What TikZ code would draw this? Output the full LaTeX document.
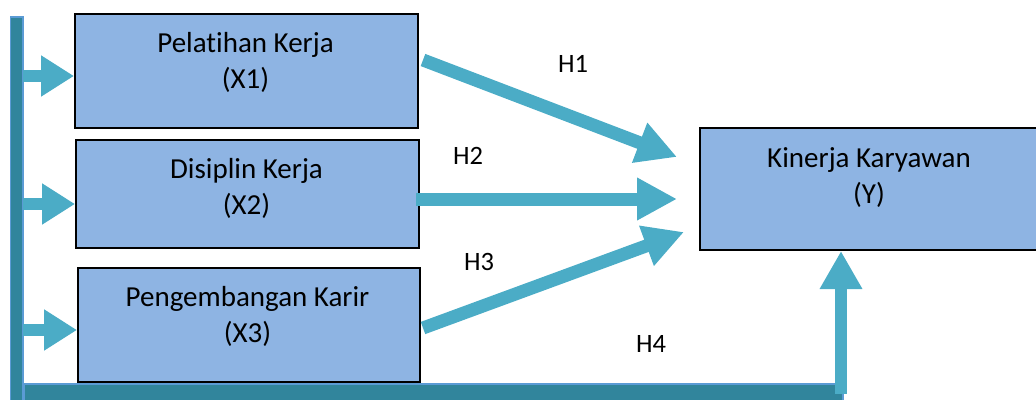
\documentclass[tikz,border=0pt]{standalone}
\usepackage{fontspec}
\setmainfont{Carlito}[Ligatures=NoCommon]
\usetikzlibrary{arrows.meta}
\definecolor{boxfill}{HTML}{8EB4E3}
\definecolor{flowc}{HTML}{4BACC6}
\definecolor{barfill}{HTML}{31859C}
\definecolor{baredge}{HTML}{5B9BD5}
\newcommand{\twolines}[2]{\begin{tabular}[t]{@{}c@{}}#1\\#2\end{tabular}}
\tikzset{
  varbox/.style={draw=black, line width=2pt, fill=boxfill, inner sep=0pt, anchor=north west},
  lbl/.style={inner sep=0pt, anchor=base, font=\fontsize{29}{36}\selectfont},
  hlbl/.style={inner sep=0pt, anchor=base, font=\fontsize{26.5}{32}\selectfont},
  bar/.style={draw=baredge, line width=1.5pt, fill=barfill},
  flow/.style={draw=flowc, line width=13pt, -{Triangle[length=40pt,width=40pt]}},
  feed/.style={draw=flowc, line width=12pt, -{Triangle[length=33pt,width=39pt]}},
}
\begin{document}
\begin{tikzpicture}[x=1pt,y=-1pt]
\useasboundingbox (0,0) rectangle (1036,399);
\clip (0,0) rectangle (1036,399);

% feedback bars along the left and bottom
\draw[bar] (10.5,17) rectangle (23,410);
\draw[bar] (24,384) rectangle (843,410);

% variable boxes
\node[varbox, minimum width=343pt, minimum height=114pt] (x1) at (74,13) {};
\node[varbox, minimum width=343pt, minimum height=108pt] (x2) at (75,139) {};
\node[varbox, minimum width=342pt, minimum height=114pt] (x3) at (77,267) {};
\node[varbox, minimum width=337pt, minimum height=122pt] (y) at (699,127) {};

\node[lbl] (x1t) at (245.5,52) {\twolines{Pelatihan Kerja}{(X1)}};
\node[lbl] (x2t) at (246.5,178) {\twolines{Disiplin Kerja}{(X2)}};
\node[lbl] (x3t) at (247.5,306) {\twolines{Pengembangan Karir}{(X3)}};
\node[lbl] (yt) at (869,167) {\twolines{Kinerja Karyawan}{(Y)}};

% hypothesis labels
\node[hlbl] (h1) at (573,72) {H1};
\node[hlbl] (h2) at (468,164) {H2};
\node[hlbl] (h3) at (479,270) {H3};
\node[hlbl] (h4) at (651,352) {H4};

% arrow end points
\coordinate (b1) at (23,76);
\coordinate (b2) at (23,204);
\coordinate (b3) at (23,330);
\coordinate (s1) at (423,60);
\coordinate (t1) at (677,157);
\coordinate (s2) at (416,199);
\coordinate (t2) at (677,199);
\coordinate (s3) at (423,328);
\coordinate (t3) at (684,232);
\coordinate (s4) at (841,394);
\coordinate (t4) at (841,251);

% arrows from the left bar into the boxes
\draw[feed] (b1) -- (b1 -| x1.west);
\draw[feed] (b2) -- (b2 -| x2.west);
\draw[feed] (b3) -- (b3 -| x3.west);

% hypothesis arrows
\draw[flow] (s1) -- (t1);
\draw[flow] (s2) -- (t2);
\draw[flow] (s3) -- (t3);
\draw[feed, -{Triangle[length=38pt,width=40pt]}] (s4) -- (t4);
\end{tikzpicture}
\end{document}
